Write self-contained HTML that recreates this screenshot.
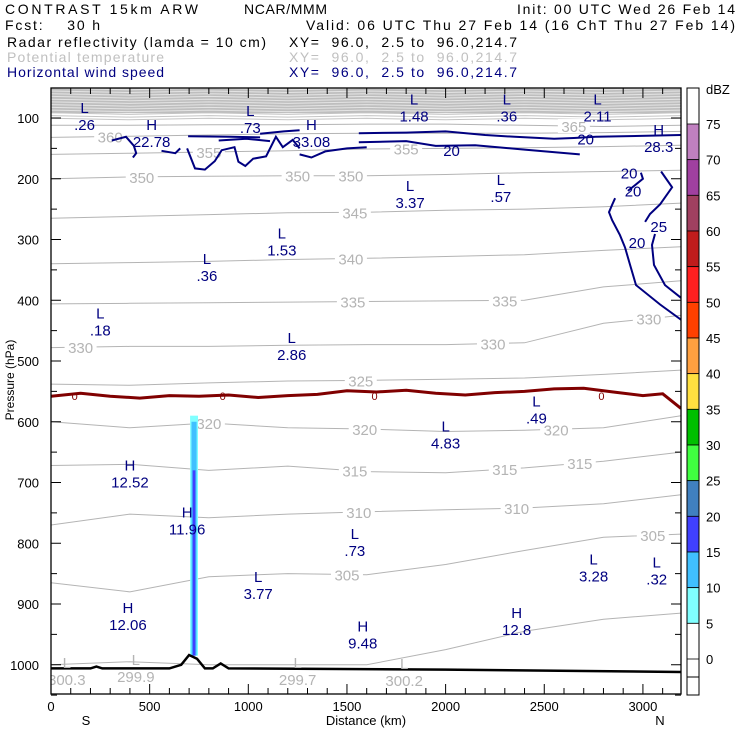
<!DOCTYPE html>
<html><head><meta charset="utf-8"><style>
body{margin:0;background:#fff;}
svg{display:block;font-family:"Liberation Sans",sans-serif;}
</style></head><body>
<svg id="c" width="740" height="740" viewBox="0 0 740 740">
<g font-size="14">
<text x="5" y="14" textLength="193" lengthAdjust="spacing">CONTRAST 15km ARW</text>
<text x="244" y="14" textLength="83" lengthAdjust="spacing">NCAR/MMM</text>
<text x="517" y="14" textLength="218" lengthAdjust="spacing">Init: 00 UTC Wed 26 Feb 14</text>
<text x="5" y="30" textLength="95" lengthAdjust="spacing" xml:space="preserve">Fcst:    30 h</text>
<text x="306" y="30" textLength="429" lengthAdjust="spacing">Valid: 06 UTC Thu 27 Feb 14 (16 ChT Thu 27 Feb 14)</text>
<text x="7" y="47" textLength="259" lengthAdjust="spacing">Radar reflectivity (lamda = 10 cm)</text>
<text x="289" y="47" textLength="228" lengthAdjust="spacing" xml:space="preserve">XY=  96.0,  2.5 to  96.0,214.7</text>
<text x="7" y="62" textLength="157" lengthAdjust="spacing" fill="#c0c0c0">Potential temperature</text>
<text x="289" y="62" textLength="228" lengthAdjust="spacing" xml:space="preserve" fill="#c0c0c0">XY=  96.0,  2.5 to  96.0,214.7</text>
<text x="7" y="77" textLength="157" lengthAdjust="spacing" fill="#000080">Horizontal wind speed</text>
<text x="289" y="77" textLength="228" lengthAdjust="spacing" xml:space="preserve" fill="#000080">XY=  96.0,  2.5 to  96.0,214.7</text>
</g>
<defs><clipPath id="pc"><rect x="51" y="88" width="630" height="606"/></clipPath></defs>
<g id="plot" clip-path="url(#pc)"></g>
<g id="axes"></g>
<g id="cbar"></g>
</svg>
<script>
const NS='http://www.w3.org/2000/svg';
const X0=51,X1=681,KM1=3193;
const Y0=88,Y1=694;
function xs(km){return X0+(km-0)*(X1-X0)/KM1;}
function ys(p){return 118+(p-100)*0.6075;}

const xKm=[0,400,800,1200,1600,2000,2400,2800,3193];
const thetaLevels=[300,305,310,315,320,325,330,335,340,345,350,355,360,365];
const thetaP=[
 [1000,995,1000,1000,1000,975,945,925,915],
 [865,880,855,850,852,835,812,790,785],
 [770,752,758,752,748,745,742,735,720],
 [672,670,680,673,682,684,676,665,650],
 [600,610,602,610,612,616,614,610,590],
 [538,540,536,533,532,530,528,522,515],
 [478,476,476,474,473,473,470,438,425],
 [406,405,404,403,402,401,400,378,368],
 [340,338,336,333,331,328,325,318,312],
 [265,262,259,256,255,252,250,246,240],
 [200,197,196,195,195,193,190,188,186],
 [160,158,156,154,151,150,149,147,145],
 [132,130,128,126,125,125,125,124,122],
 [112,112,111,111,110,110,112,114,112]];
const thetaLabels=[[],[[1500,'305'],[3050,'305']],[[1560,'310'],[2360,'310']],[[1540,'315'],[2300,'315'],[2680,'315']],[[800,'320'],[1590,'320'],[2560,'320']],[[1570,'325']],[[150,'330'],[2240,'330'],[3030,'330']],[[1530,'335'],[2300,'335']],[[1520,'340']],[[1540,'345']],[[460,'350'],[1250,'350'],[1520,'350']],[[800,'355'],[1800,'355']],[[300,'360']],[[2650,'365']]];

const frzKm=[0,150,300,450,600,750,900,1050,1200,1350,1500,1650,1800,1950,2100,2250,2400,2550,2700,2850,3000,3100,3193];
const frzP=[558,553,558,561,557,558,556,560,557,555,549,551,548,553,556,552,550,546,545,551,557,554,578];

const sfcKm=[0,200,230,260,600,660,700,740,780,820,860,900,2000,3193];
const sfcP=[1006,1006,1003,1006,1006,1000,984,990,1006,1006,998,1006,1008,1012];

const radarKm=[[705,745],[712,738],[718,732]];
const radarTop=[590,600,680];
const radarBot=[985,985,985];
const radarCol=['#80ffff','#40c0ff','#4040ff'];

const windLines=[
 [[308,137],[380,131],[420,146],[432,158],[415,165]],
 [[560,154],[630,158],[655,150]],
 [[690,150],[730,183],[780,185],[830,171],[865,153],[930,148],[950,172],[985,179],[1025,167],[1090,163],[1140,131],[1175,148],[1225,136],[1260,150]],
 [[695,130],[910,131],[1060,132]],
 [[1060,126],[1180,122],[1260,120]],
 [[850,137],[990,134],[1110,138]],
 [[1260,160],[1320,165],[1390,155],[1500,150],[1600,148]],
 [[1560,125],[1800,124],[2000,122],[2200,128],[2350,131],[2550,134],[2650,133],[2760,131],[3193,128]],
 [[1560,140],[1800,138],[1950,146],[2150,145],[2400,152],[2680,160]],
 [[3193,432],[3087,407],[2965,375],[2935,342],[2909,313],[2884,293],[2844,268],[2828,255],[2844,243],[2859,232]],
 [[2924,220],[3000,200],[2990,190]],
 [[3193,396],[3112,375],[3056,342],[3046,309],[3061,291]],
 [[3011,271],[3036,258],[3087,242],[3148,214],[3092,188]]];
const windLabels=[[2710,134,'20'],[2030,153,'20'],[2930,190,'20'],[2950,219,'20'],[2970,304,'20'],[3080,278,'25']];

const extrema=[
 [170,92,'L','.26',0],[1010,97,'L','.73',0],[1840,78,'L','1.48',0],[2310,78,'L','.36',0],[2770,78,'L','2.11',0],
 [510,120,'H','22.78',0],[1320,120,'H','33.08',0],[3080,128,'H','28.3',0],
 [1820,220,'L','3.37',0],[2280,210,'L','.57',0],
 [1170,298,'L','1.53',0],[790,340,'L','.36',0],[250,430,'L','.18',0],[1220,470,'L','2.86',0],
 [2460,575,'L','.49',0],[2000,616,'L','4.83',0],
 [400,680,'H','12.52',0],[690,758,'H','11.96',0],[1540,793,'L','.73',0],
 [1050,864,'L','3.77',0],[2750,835,'L','3.28',0],[3070,840,'L','.32',0],
 [390,915,'H','12.06',0],[1580,945,'H','9.48',0],[2360,923,'H','12.8',0],
 [80,1005,'L','300.3',1],[430,1000,'L','299.9',1],[1250,1005,'L','299.7',1],[1790,1007,'L','300.2',1]];

const xTicks=[0,500,1000,1500,2000,2500,3000];
const yTicks=[100,200,300,400,500,600,700,800,900,1000];

const cbLevels=[75,70,65,60,55,50,45,40,35,30,25,20,15,10,5,0];
const cbColors=['#c080c0','#a040a0','#a04060','#c01c1c','#ff2020','#ff4000','#ffa040','#ffe040','#00c000','#40ff40','#4080c0','#4040ff','#40c0ff','#80ffff','#ffffff'];

function el(tag,attrs,parent,txt){const e=document.createElementNS(NS,tag);for(const k in attrs)e.setAttribute(k,attrs[k]);if(txt!==undefined)e.textContent=txt;parent.appendChild(e);return e;}
const plot=document.getElementById('plot'),axes=document.getElementById('axes'),cbar=document.getElementById('cbar');
function pts(arr){return arr.map(p=>xs(p[0]).toFixed(1)+','+ys(p[1]).toFixed(1)).join(' ');}

let band=el('rect',{x:X0,y:Y0,width:X1-X0,height:ys(92)-Y0,fill:'#bebebe'},plot);


for(let i=0;i<12;i++){
 let l=el('polyline',{points:pts(xKm.map((k,j)=>[k,52+i*4.5+((j%2)?1.5:-1)])),fill:'none',stroke:(i<9?'#e4e4e4':'#c4c4c4'),'stroke-width':1},plot);
 
 
}
thetaLevels.forEach((lv,i)=>{
 let l=el('polyline',{points:pts(xKm.map((k,j)=>[k,thetaP[i][j]])),fill:'none',stroke:'#b4b4b4','stroke-width':1},plot);
 
 
 thetaLabels[i].forEach(t=>{
  let p=thetaP[i][0];for(let j=0;j<xKm.length-1;j++){if(t[0]>=xKm[j]&&t[0]<=xKm[j+1]){p=thetaP[i][j]+(thetaP[i][j+1]-thetaP[i][j])*(t[0]-xKm[j])/(xKm[j+1]-xKm[j]);}}
  let r=el('rect',{x:xs(t[0])-16,y:ys(p)-7,width:32,height:14,fill:'#fff'},plot);
  
  
  let tx=el('text',{x:xs(t[0]),y:ys(p)+6,'text-anchor':'middle','font-size':15,fill:'#b4b4b4'},plot,t[1]);
  
  
 });
});
radarKm.forEach((r,i)=>{
 let b=el('rect',{x:xs(r[0]),y:ys(radarTop[i]),width:xs(r[1])-xs(r[0]),height:ys(radarBot[i])-ys(radarTop[i]),fill:radarCol[i]},plot);
 
 
});
let fz=el('polyline',{points:pts(frzKm.map((k,i)=>[k,frzP[i]])),fill:'none',stroke:'#800000','stroke-width':3},plot);


[[120,'0'],[870,'0'],[1640,'0'],[2790,'0']].forEach(t=>{
 let tx=el('text',{x:xs(t[0]),y:ys(558)+4,'text-anchor':'middle','font-size':11,fill:'#800000'},plot,t[1]);
 
 
});
windLines.forEach(w=>{
 let l=el('polyline',{points:pts(w),fill:'none',stroke:'#000080','stroke-width':2},plot);
 
 
});
windLabels.forEach(w=>{
 let tx=el('text',{x:xs(w[0]),y:ys(w[1])+6,'text-anchor':'middle','font-size':15,fill:'#000080'},plot,w[2]);
 
 
});
let sf=el('polyline',{points:pts(sfcKm.map((k,i)=>[k,sfcP[i]])),fill:'none',stroke:'#000','stroke-width':2.5},plot);


extrema.forEach(e=>{
 const c=e[4]?'#b4b4b4':'#000080';
 let g=el('g',{},plot);
 
 
 el('text',{x:xs(e[0]),y:ys(e[1]),'text-anchor':'middle','font-size':15,fill:c},g,e[2]);
 el('text',{x:xs(e[0]),y:ys(e[1])+17,'text-anchor':'middle','font-size':15,fill:c},g,e[3]);
});
let fr=el('rect',{x:X0,y:Y0,width:X1-X0,height:Y1-Y0,fill:'none',stroke:'#000','stroke-width':1.3},axes);


for(let k=0;k<=3100;k+=100){
 const big=k%500===0,x=xs(k);
 let t=el('line',{x1:x,x2:x,y1:Y1,y2:Y1-(big?10:6),stroke:'#000'},axes);
 
 
 let t2=el('line',{x1:x,x2:x,y1:Y0,y2:Y0+(big?10:6),stroke:'#000'},axes);
 
 
}
xTicks.forEach(k=>{
 let tx=el('text',{x:xs(k),y:711,'text-anchor':'middle','font-size':13},axes,String(k));
 
 
});
for(let p=100;p<=1050;p+=50){
 const big=p%100===0,y=ys(p);
 let t=el('line',{x1:X0,x2:X0+(big?10:6),y1:y,y2:y,stroke:'#000'},axes);
 
 
 let t2=el('line',{x1:X1,x2:X1-(big?10:6),y1:y,y2:y,stroke:'#000'},axes);
 
 
}
yTicks.forEach(p=>{
 let tx=el('text',{x:39,y:ys(p)+5,'text-anchor':'end','font-size':13},axes,String(p));
 
 
});
let xt=el('text',{x:366,y:725,'text-anchor':'middle','font-size':13},axes,'Distance (km)');


let s1=el('text',{x:86,y:725,'text-anchor':'middle','font-size':13},axes,'S');


let n1=el('text',{x:660,y:725,'text-anchor':'middle','font-size':13},axes,'N');


let yt=el('text',{x:14,y:380,'text-anchor':'middle','font-size':12,transform:'rotate(-90 14 380)'},axes,'Pressure (hPa)');


const cbY=v=>124+(75-v)*(659-124)/75;
cbColors.forEach((c,i)=>{
 let r=el('rect',{x:687,y:cbY(cbLevels[i]),width:12,height:cbY(cbLevels[i+1])-cbY(cbLevels[i]),fill:c,stroke:'#000','stroke-width':0.8},cbar);
 
 
});
let cbf=el('rect',{x:687,y:88,width:12,height:607,fill:'none',stroke:'#000','stroke-width':1},cbar);


let cbl=el('line',{x1:687,x2:699,y1:cbY(0)+18,y2:cbY(0)+18,stroke:'#000'},cbar);


cbLevels.forEach(v=>{
 let tx=el('text',{x:706,y:cbY(v)+5,'font-size':13},cbar,String(v));
 
 
});
let du=el('text',{x:706,y:94,'font-size':13},cbar,'dBZ');


</script>
</body></html>
